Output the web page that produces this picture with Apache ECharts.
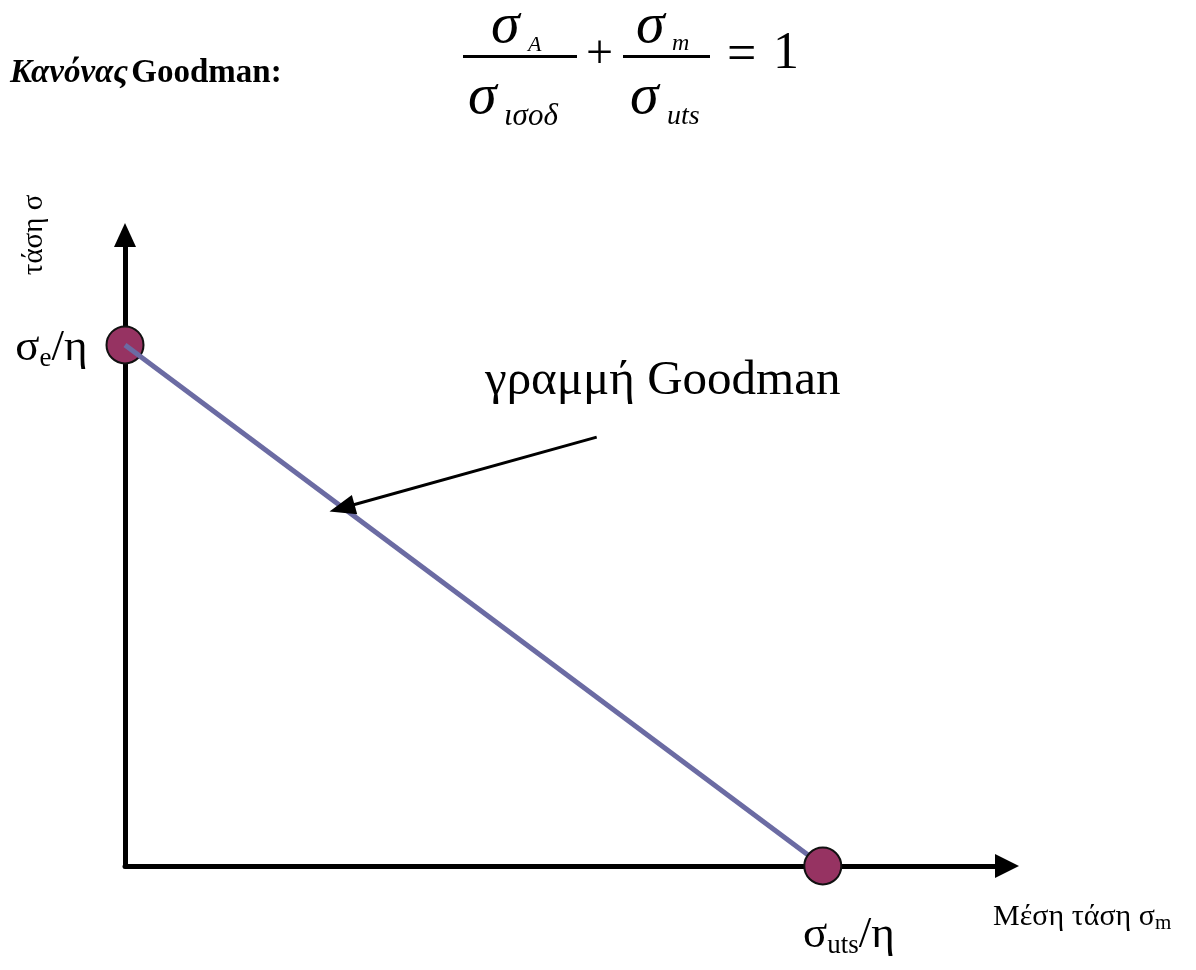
<!DOCTYPE html>
<html>
<head>
<meta charset="utf-8">
<script src="https://cdn.jsdelivr.net/npm/echarts@6/dist/echarts.min.js"></script>
<style>
  html, body { margin: 0; padding: 0; background: #ffffff; }
  #chart { width: 1196px; height: 970px; }
</style>
</head>
<body>
<div id="chart"></div>
<script>
// Goodman line in normalised units: x = σm / (σuts/η), y = σa / (σe/η)
const goodmanLine = [[0, 1], [1, 0]];
const enduranceEnd = [[0, 1]];   // σe/η on the stress axis
const utsEnd = [[1, 0]];         // σuts/η on the mean-stress axis
// Callout arrow pointing at the line (from text side to the line)
const calloutFrom = [0.676, 0.823];
const calloutTo = [0.311, 0.687];
// Axis extents (the arrows run past the end points)
const xMax = 1.264;
const yMax = 1.211;

const SERIF = "'Liberation Serif', 'DejaVu Serif', serif";
const LINE_COLOR = '#6b6ba3';
const DOT_COLOR = '#963362';

const chart = echarts.init(document.getElementById('chart'), null, { renderer: 'canvas' });

function txt(x, y, text, font, extra) {
  return {
    type: 'text', x: x, y: y, silent: true,
    style: Object.assign({
      text: text, font: font, fill: '#000',
      align: 'left', verticalAlign: 'middle',
      textAlign: 'left', textVerticalAlign: 'middle'
    }, extra || {})
  };
}

const graphics = [
  // heading
  {
    type: 'text', left: 10, top: 57, silent: true,
    style: {
      text: '{i|Κανόνας} {b|Goodman:}',
      rich: {
        i: { font: 'italic bold 33px ' + SERIF, fill: '#000' },
        b: { font: 'bold 33px ' + SERIF, fill: '#000' }
      }
    }
  },
  // σA / σισοδ + σm / σuts = 1
  txt(491, 27, 'σ', 'italic 58px ' + SERIF),
  txt(528, 45, 'A', 'italic 22px ' + SERIF),
  { type: 'rect', silent: true, shape: { x: 463, y: 55, width: 114, height: 3 }, style: { fill: '#000' } },
  txt(468, 98, 'σ', 'italic 58px ' + SERIF),
  txt(504, 117, 'ισοδ', 'italic 31px ' + SERIF),
  txt(586, 55, '+', '48px ' + SERIF),
  txt(636, 27, 'σ', 'italic 58px ' + SERIF),
  txt(672, 44, 'm', 'italic 24px ' + SERIF),
  { type: 'rect', silent: true, shape: { x: 623, y: 55, width: 87, height: 3 }, style: { fill: '#000' } },
  txt(630, 98, 'σ', 'italic 58px ' + SERIF),
  txt(667, 117, 'uts', 'italic 28px ' + SERIF),
  txt(727, 56, '=', '52px ' + SERIF),
  txt(773, 54, '1', '52px ' + SERIF),
  // callout text
  txt(485, 381, 'γραμμή Goodman', '49px ' + SERIF),
  // axis captions
  {
    type: 'text', x: 34, y: 235, rotation: Math.PI / 2, silent: true,
    style: {
      text: 'τάση σ', font: '29px ' + SERIF, fill: '#000',
      align: 'center', verticalAlign: 'middle', textAlign: 'center', textVerticalAlign: 'middle'
    }
  },
  {
    type: 'text', x: 993, y: 918, silent: true,
    style: {
      text: '{n|Μέση τάση σ}{s|m}',
      align: 'left', verticalAlign: 'middle', textAlign: 'left', textVerticalAlign: 'middle',
      rich: {
        n: { font: '30px ' + SERIF, fill: '#000', lineHeight: 31, verticalAlign: 'top' },
        s: { font: '21px ' + SERIF, fill: '#000', lineHeight: 21, verticalAlign: 'bottom' }
      }
    }
  }
];

const pointRich = {
  s: { fontFamily: SERIF, fontSize: 45, color: '#000', lineHeight: 47, verticalAlign: 'top' },
  sub: { fontFamily: SERIF, fontSize: 27, color: '#000', lineHeight: 27, verticalAlign: 'bottom' }
};

const dotStyle = { color: DOT_COLOR, borderColor: '#111', borderWidth: 2, opacity: 1 };

chart.setOption({
  animation: false,
  backgroundColor: '#ffffff',
  grid: { left: 125, right: 189, top: 235, bottom: 104, containLabel: false },
  xAxis: {
    type: 'value', min: 0, max: xMax,
    axisLine: {
      show: true, onZero: false,
      symbol: ['none', 'triangle'], symbolSize: [24, 24],
      lineStyle: { color: '#000', width: 5 }
    },
    axisTick: { show: false }, axisLabel: { show: false }, splitLine: { show: false }
  },
  yAxis: {
    type: 'value', min: 0, max: yMax,
    axisLine: {
      show: true, onZero: false,
      symbol: ['none', 'triangle'], symbolSize: [22, 24],
      lineStyle: { color: '#000', width: 5 }
    },
    axisTick: { show: false }, axisLabel: { show: false }, splitLine: { show: false }
  },
  series: [
    {
      name: 'σe/η', type: 'scatter', data: enduranceEnd, symbol: 'circle', symbolSize: 37,
      itemStyle: dotStyle, z: 2, silent: true,
      label: {
        show: true, position: 'left', distance: 18, offset: [0, 4], color: '#000',
        formatter: '{s|σ}{sub|e}{s|/η}', rich: pointRich
      }
    },
    {
      name: 'Goodman', type: 'line', data: goodmanLine, showSymbol: false, z: 3, silent: true,
      lineStyle: { color: LINE_COLOR, width: 5 },
      markLine: {
        silent: true, symbol: ['none', 'triangle'], symbolSize: [20, 26],
        label: { show: false },
        lineStyle: { color: '#000', width: 3, type: 'solid' },
        emphasis: { disabled: true },
        data: [[{ coord: calloutFrom }, { coord: calloutTo }]]
      }
    },
    {
      name: 'σuts/η', type: 'scatter', data: utsEnd, symbol: 'circle', symbolSize: 37,
      itemStyle: dotStyle, z: 4, silent: true,
      label: {
        show: true, position: 'bottom', distance: 27, offset: [26, 0], color: '#000',
        formatter: '{s|σ}{sub|uts}{s|/η}', rich: pointRich
      }
    }
  ],
  graphic: graphics
});
</script>
</body>
</html>
